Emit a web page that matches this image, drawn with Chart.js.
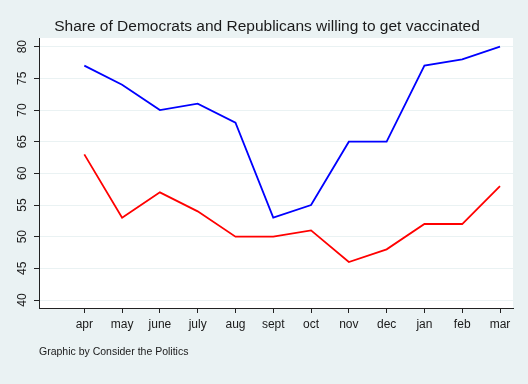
<!DOCTYPE html>
<html>
<head>
<meta charset="utf-8">
<script src="https://cdn.jsdelivr.net/npm/chart.js@4/dist/chart.umd.min.js"></script>
<style>
  html, body { margin: 0; padding: 0; background: #EAF2F3; }
  canvas { display: block; }
</style>
</head>
<body>
<canvas id="c" width="528" height="384"></canvas>
<script>
const months = ['apr','may','june','july','aug','sept','oct','nov','dec','jan','feb','mar'];
const democrats = [77, 74, 70, 71, 68, 53, 55, 65, 65, 77, 78, 80];
const republicans = [63, 53, 57, 54, 50, 50, 51, 46, 48, 52, 52, 58];
const yTicks = [40, 45, 50, 55, 60, 65, 70, 75, 80];
const titleText = 'Share of Democrats and Republicans willing to get vaccinated';
const captionText = 'Graphic by Consider the Politics';

const FONT = "'Liberation Sans', Arial, sans-serif";
const AXIS = '#222';

const bgPlugin = {
  id: 'bg',
  beforeDraw(chart) {
    const ctx = chart.ctx;
    ctx.save();
    ctx.fillStyle = '#EAF2F3';
    ctx.fillRect(0, 0, chart.width, chart.height);
    const a = chart.chartArea;
    ctx.fillStyle = '#FFFFFF';
    ctx.fillRect(a.left, a.top, a.right - a.left, a.bottom - a.top);
    ctx.restore();
  }
};

const toPoints = arr => arr.map((v, i) => ({ x: i + 1, y: v }));

new Chart(document.getElementById('c'), {
  type: 'line',
  data: {
    datasets: [
      { label: 'Democrats', data: toPoints(democrats), borderColor: '#0000FF', borderWidth: 1.8, pointRadius: 0, tension: 0, fill: false },
      { label: 'Republicans', data: toPoints(republicans), borderColor: '#FF0000', borderWidth: 1.8, pointRadius: 0, tension: 0, fill: false }
    ]
  },
  options: {
    responsive: false,
    animation: false,
    layout: { padding: { left: 6, right: 0, top: 0, bottom: 0 } },
    plugins: {
      legend: { display: false },
      tooltip: { enabled: false },
      title: {
        display: true,
        text: titleText,
        color: '#1a1a1a',
        font: { family: FONT, size: 15.5, weight: 'normal' },
        padding: { top: 17, bottom: 2.4 }
      }
    },
    scales: {
      x: {
        type: 'linear',
        min: -0.199,
        max: 12.344,
        afterBuildTicks(scale) { scale.ticks = months.map((m, i) => ({ value: i + 1 })); },
        afterFit(scale) { scale.height = 76; },
        ticks: {
          autoSkip: false,
          maxRotation: 0,
          minRotation: 0,
          padding: 4,
          color: '#1a1a1a',
          font: { family: FONT, size: 12 },
          callback: (v) => months[Math.round(v) - 1] || ''
        },
        grid: { drawOnChartArea: false, drawTicks: true, tickLength: 5, tickColor: AXIS },
        border: { display: true, color: AXIS, width: 1 },
        title: {
          display: true,
          text: captionText,
          align: 'start',
          color: '#1a1a1a',
          font: { family: FONT, size: 10.5 },
          padding: { top: 0, bottom: 25.5 }
        }
      },
      y: {
        type: 'linear',
        min: 38.74,
        max: 81.37,
        afterBuildTicks(scale) { scale.ticks = yTicks.map(v => ({ value: v })); },
        afterFit(scale) { scale.width = 33; },
        ticks: {
          minRotation: 90,
          maxRotation: 90,
          crossAlign: 'center',
          padding: 5,
          color: '#1a1a1a',
          font: { family: FONT, size: 12 }
        },
        grid: { color: '#EAF2F3', lineWidth: 1, drawTicks: true, tickLength: 5, tickColor: AXIS },
        border: { display: true, color: AXIS, width: 1 }
      },
      yRight: {
        type: 'linear',
        position: 'right',
        display: true,
        afterFit(scale) { scale.width = 15; },
        ticks: { display: false },
        grid: { display: false, drawTicks: false },
        border: { display: false }
      }
    }
  },
  plugins: [bgPlugin]
});
</script>
</body>
</html>
